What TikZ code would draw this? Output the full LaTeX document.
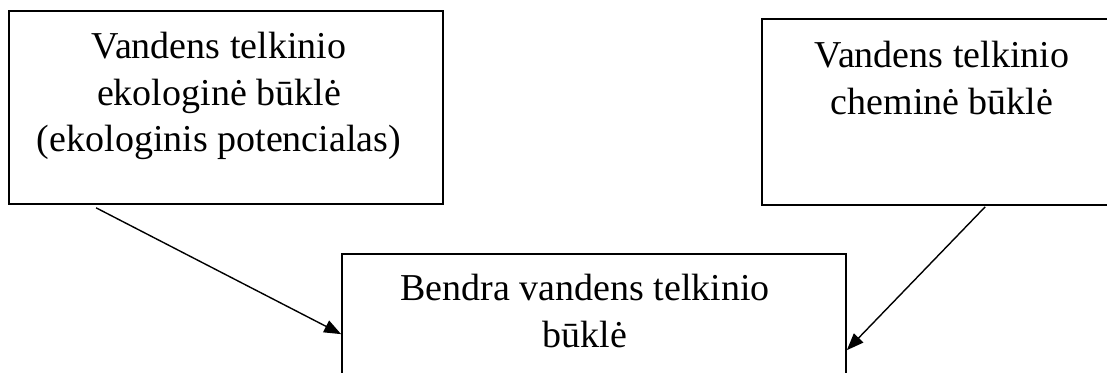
\documentclass[tikz,border=0pt]{standalone}
\usepackage{fontspec}
\setmainfont{Liberation Serif}
\usetikzlibrary{arrows.meta}
\tikzset{
  boxshape/.style={draw, line width=1.7pt, rectangle, inner sep=0pt},
  boxtext/.style={inner sep=0pt, align=center, anchor=north,
    font=\fontsize{38}{46.5}\selectfont},
  link/.style={line width=1.4pt, -{Triangle[length=17pt,width=13pt]}}
}
\begin{document}
\begin{tikzpicture}[x=1pt,y=-1pt]
\clip (0,0) rectangle (1107,372);
\fill[white] (0,0) rectangle (1107,372);
% boxes
\node[boxshape, minimum width=434pt, minimum height=193pt] (L) at (226,107.5) {};
\node[boxshape, minimum width=376pt, minimum height=186pt] (R) at (950,112) {};
\node[boxshape, minimum width=504pt, minimum height=200pt] (B) at (594,354) {};
% texts
\node[boxtext] (Lt) at (219,32) {Vandens telkinio\\ekologinė būklė\\(ekologinis potencialas)};
\node[boxtext] (Rt) at (942,41) {Vandens telkinio\\cheminė būklė};
\node[boxtext] (Bt) at (585,274) {Bendra vandens telkinio\\būklė};
% connectors
\coordinate (s1) at ([shift={(88,3)}]L.south west);
\coordinate (t1) at ([shift={(0,81)}]B.north west);
\coordinate (s2) at ([shift={(224,1)}]R.south west);
\coordinate (t2) at ([shift={(0,97)}]B.north east);
\draw[link] (s1) -- (t1);
\draw[link] (s2) -- (t2);
\end{tikzpicture}
\end{document}
